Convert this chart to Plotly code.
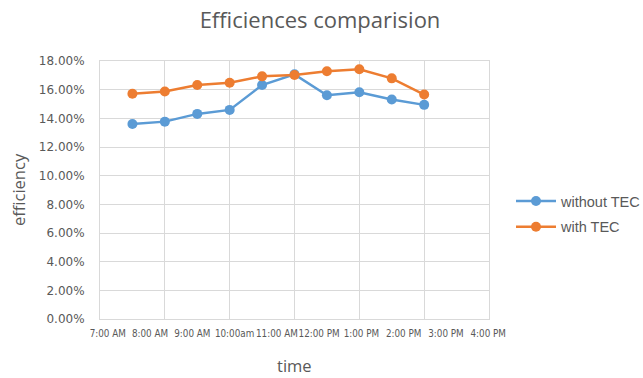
import plotly.graph_objects as go

time_labels = ["7:00 AM", "8:00 AM", "9:00 AM", "10:00am", "11:00 AM", "12:00 PM",
               "1:00 PM", "2:00 PM", "3:00 PM", "4:00 PM"]
sample_index = [1, 2, 3, 4, 5, 6, 7, 8, 9, 10]
without_tec = [13.61, 13.77, 14.31, 14.59, 16.32, 17.07, 15.61, 15.82, 15.31, 14.94]
with_tec = [15.71, 15.87, 16.32, 16.48, 16.93, 17.02, 17.28, 17.42, 16.79, 15.66]

BLUE = "#5B9BD5"
ORANGE = "#ED7D31"
GRAY = "#595959"
GRID = "#D9D9D9"

fig = go.Figure()
fig.add_trace(go.Scatter(x=sample_index, y=without_tec, mode="lines+markers", name="without TEC",
                         legendgroup="a",
                         line=dict(color=BLUE, width=2.5), marker=dict(color=BLUE, size=10)))
fig.add_trace(go.Scatter(x=sample_index, y=with_tec, mode="lines+markers", name="with TEC",
                         legendgroup="b",
                         line=dict(color=ORANGE, width=2.5), marker=dict(color=ORANGE, size=10)))

label_pos = [0.24 + i * 1.304 for i in range(len(time_labels))]

fig.update_layout(
    width=643, height=378,
    margin=dict(l=100, r=154, t=61, b=59),
    paper_bgcolor="white", plot_bgcolor="white",
    font=dict(family="Liberation Sans", color=GRAY, size=11),
    title=dict(text="Efficiences comparision", x=320 / 643, xref="container", xanchor="center",
               y=1 - 20 / 378, yref="container", yanchor="middle",
               font=dict(family="Open Sans", size=22, color=GRAY)),
    showlegend=True,
    legend=dict(x=511 / 643, xref="container", xanchor="left",
                y=1 - 214 / 378, yref="container", yanchor="middle", bgcolor="rgba(0,0,0,0)",
                font=dict(family="Liberation Sans", size=14.5, color=GRAY), itemwidth=40,
                tracegroupgap=4),
    xaxis=dict(range=[0, 12], tickvals=[0, 2, 4, 6, 8, 10, 12], showticklabels=False,
               showgrid=True, gridcolor=GRID, gridwidth=1, zeroline=False, automargin=False,
               showline=True, linecolor=GRID, linewidth=1, mirror=True, ticks=""),
    xaxis2=dict(range=[0, 12], overlaying="x", side="bottom", tickvals=label_pos,
                ticktext=time_labels, showgrid=False, zeroline=False, showline=False,
                ticks="", tickangle=0, automargin=False, ticklabelstandoff=7,
                tickfont=dict(family="DejaVu Sans Condensed, Liberation Sans Narrow, Liberation Sans",
                              size=9.8, color=GRAY)),
    yaxis=dict(range=[0, 18], dtick=2, tickformat=".2f", ticksuffix="%", automargin=False,
               showgrid=True, gridcolor=GRID, gridwidth=1, zeroline=False,
               showline=True, linecolor=GRID, linewidth=1, mirror=True, ticks="",
               ticklabelstandoff=12, tickfont=dict(family="DejaVu Sans", size=12, color=GRAY)),
    annotations=[
        dict(text="time", x=0.5, xref="paper", y=-(366 - 319) / 258, yref="paper",
             yanchor="middle", showarrow=False,
             font=dict(family="Open Sans", size=16.5, color=GRAY)),
        dict(text="efficiency", textangle=-90, x=-(100 - 18) / 389, xref="paper", xanchor="center",
             y=0.5, yref="paper", showarrow=False,
             font=dict(family="Open Sans", size=16.5, color=GRAY)),
    ],
)
# invisible trace on xaxis2 so its labels render
fig.add_trace(go.Scatter(x=[0], y=[0], xaxis="x2", mode="markers", marker=dict(opacity=0),
                         showlegend=False, hoverinfo="skip"))

fig.write_html("out.html", config={"displayModeBar": False},
               post_script="document.body.style.margin='0';")
